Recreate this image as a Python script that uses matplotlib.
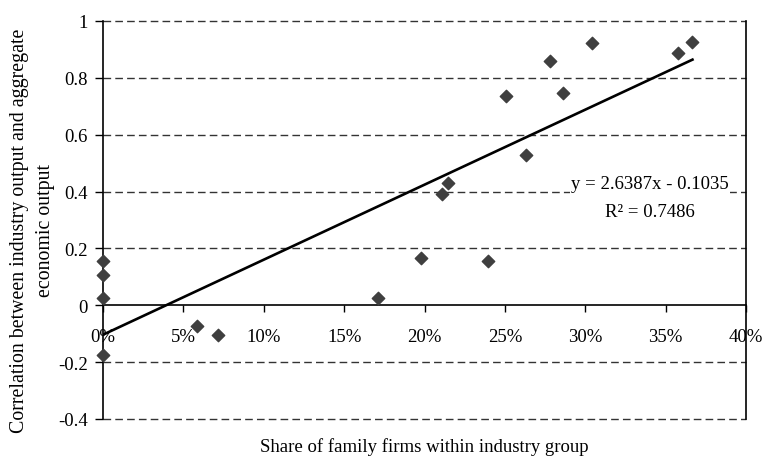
import matplotlib.pyplot as plt
import numpy as np

# share of family firms (fraction) vs correlation with aggregate output
share = [0.0, 0.0, 0.0, 0.0, 0.0587, 0.0718, 0.1713, 0.1977, 0.211, 0.2145,
         0.2398, 0.2508, 0.2632, 0.2783, 0.2864, 0.3045, 0.3578, 0.3667]
corr = [0.155, 0.105, 0.026, -0.176, -0.074, -0.104, 0.026, 0.166, 0.39, 0.43,
        0.155, 0.736, 0.53, 0.86, 0.748, 0.922, 0.888, 0.927]

slope = 2.6387
intercept = -0.1035
r2 = 0.7486

x_ticks = [0, 0.05, 0.10, 0.15, 0.20, 0.25, 0.30, 0.35, 0.40]
x_labels = ['0%', '5%', '10%', '15%', '20%', '25%', '30%', '35%', '40%']
y_ticks = [-0.4, -0.2, 0, 0.2, 0.4, 0.6, 0.8, 1.0]
y_labels = ['-0.4', '-0.2', '0', '0.2', '0.4', '0.6', '0.8', '1']

plt.rcParams['font.family'] = ['Liberation Serif', 'DejaVu Serif']
plt.rcParams['font.size'] = 13.5

fig = plt.figure(figsize=(7.65, 4.64), dpi=100)
ax = fig.add_axes([103 / 765, 1 - 420 / 464, (746 - 103) / 765, (420 - 22) / 464])

ax.set_xlim(0, 0.40)
ax.set_ylim(-0.4, 1.0)

# dashed gridlines, including the top and bottom edges
for yv in y_ticks:
    if yv == 0:
        continue
    ax.axhline(yv, color='#333333', lw=1.0, ls=(0, (5.5, 3)), clip_on=False, zorder=1)

ax.spines['top'].set_visible(False)
ax.spines['right'].set_linewidth(1.2)
ax.spines['left'].set_linewidth(1.2)
ax.spines['bottom'].set_position(('data', 0))
ax.spines['bottom'].set_linewidth(1.2)

ax.set_xticks(x_ticks)
ax.set_xticklabels(x_labels)
ax.set_yticks(y_ticks)
ax.set_yticklabels(y_labels)
ax.tick_params(axis='x', direction='out', length=5, width=1, pad=11)
ax.tick_params(axis='y', direction='out', length=6, width=1, pad=5)

ax.scatter(share, corr, marker='D', s=40, color='#3f3f3f', zorder=3, clip_on=False)

xs = np.array([0, max(share)])
ax.plot(xs, slope * xs + intercept, color='black', lw=1.9, zorder=2)

ax.text(0.3404, 0.458, f'y = {slope}x - {abs(intercept)}\nR² = {r2}',
        ha='center', va='top', linespacing=1.85,
        bbox=dict(facecolor='white', edgecolor='none', pad=1), zorder=4)

ax.set_xlabel('Share of family firms within industry group')
ax.xaxis.set_label_coords(0.5, -0.045)
ax.set_ylabel('Correlation between industry output and aggregate\neconomic output',
              fontsize=14.3, linespacing=1.55)
ax.yaxis.set_label_coords(-0.074, 0.475)

fig.savefig('out.png', dpi=100)
